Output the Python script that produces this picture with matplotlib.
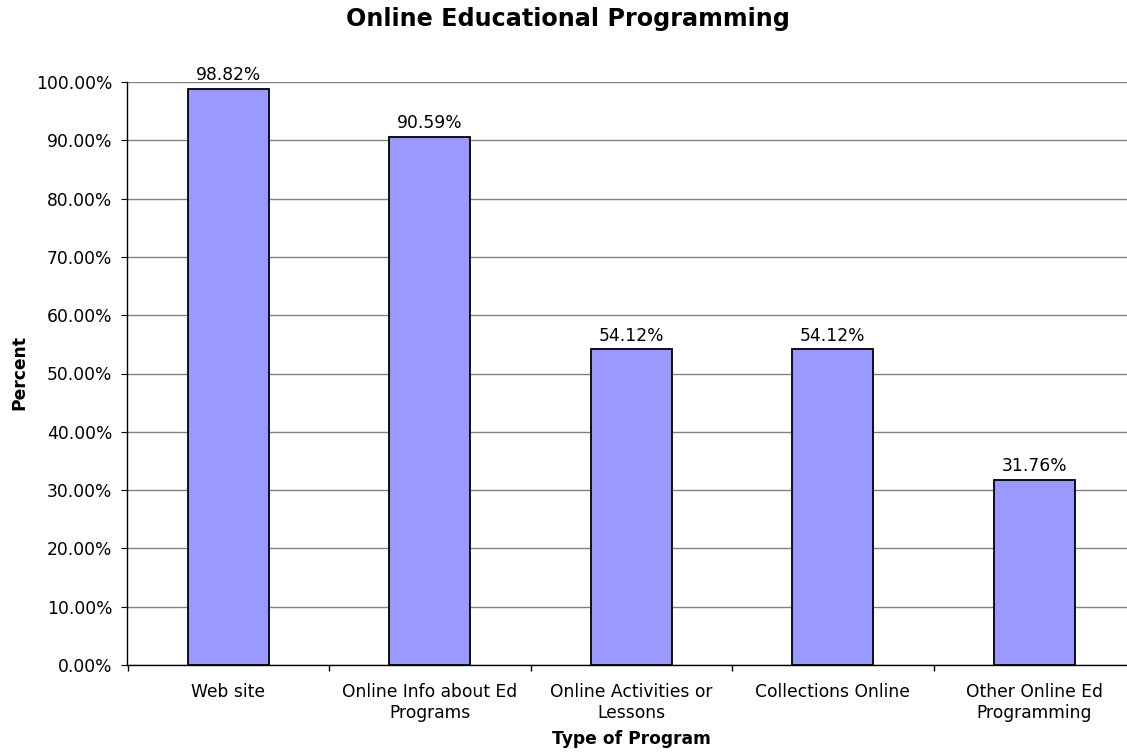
import numpy as np
import matplotlib
matplotlib.use("Agg")
import matplotlib.pyplot as plt
from matplotlib.ticker import FuncFormatter, FixedLocator

categories = ["Web site", "Online Info about Ed\nPrograms", "Online Activities or\nLessons",
              "Collections Online", "Other Online Ed\nProgramming"]
percents = [98.82, 90.59, 54.12, 54.12, 31.76]

plt.rcParams['font.family'] = ['DejaVu Sans']
fs = 12.3

fig = plt.figure(figsize=(11.27, 7.53), dpi=100)
ax = fig.add_axes([127.5 / 1127, 88 / 753, 1007.5 / 1127, 583 / 753])

x = np.arange(len(categories))
bars = ax.bar(x, percents, width=0.4, color="#9999FF", edgecolor="black", linewidth=1.3, zorder=3)
for b, v in zip(bars, percents):
    ax.annotate(f"{v:.2f}%", (b.get_x() + b.get_width() / 2, v), xytext=(0, 3.5),
                textcoords="offset points", ha="center", va="bottom", fontsize=fs)

ax.set_xlim(-0.5, len(categories) - 0.5)
ax.set_ylim(0, 100)
ax.set_yticks(np.arange(0, 101, 10))
ax.yaxis.set_major_formatter(FuncFormatter(lambda v, p: f"{v:.2f}%"))
ax.yaxis.grid(True, color="#808080", linewidth=1, zorder=0)
ax.set_xticks(x)
ax.set_xticklabels(categories, fontsize=fs, linespacing=1.2)
ax.xaxis.set_minor_locator(FixedLocator(np.arange(-0.5, len(categories), 1)))
ax.tick_params(axis="x", which="major", length=0, pad=13)
ax.tick_params(axis="x", which="minor", length=4, direction="out", width=1)
ax.tick_params(axis="y", length=4, direction="out", labelsize=fs, pad=7)
for s in ["top", "right"]:
    ax.spines[s].set_visible(False)
ax.spines["left"].set_linewidth(1)
ax.spines["bottom"].set_linewidth(1)

ax.set_xlabel("Type of Program", fontsize=fs, fontweight="bold", labelpad=6)
fig.text(19 / 1127, 1 - 373 / 753, "Percent", rotation=90, ha="center", va="center",
         fontsize=fs, fontweight="bold")
fig.text(568 / 1127, 1 - 19 / 753, "Online Educational Programming", ha="center", va="center",
         fontsize=17.2, fontweight="bold")

fig.savefig("out.png", dpi=100)
